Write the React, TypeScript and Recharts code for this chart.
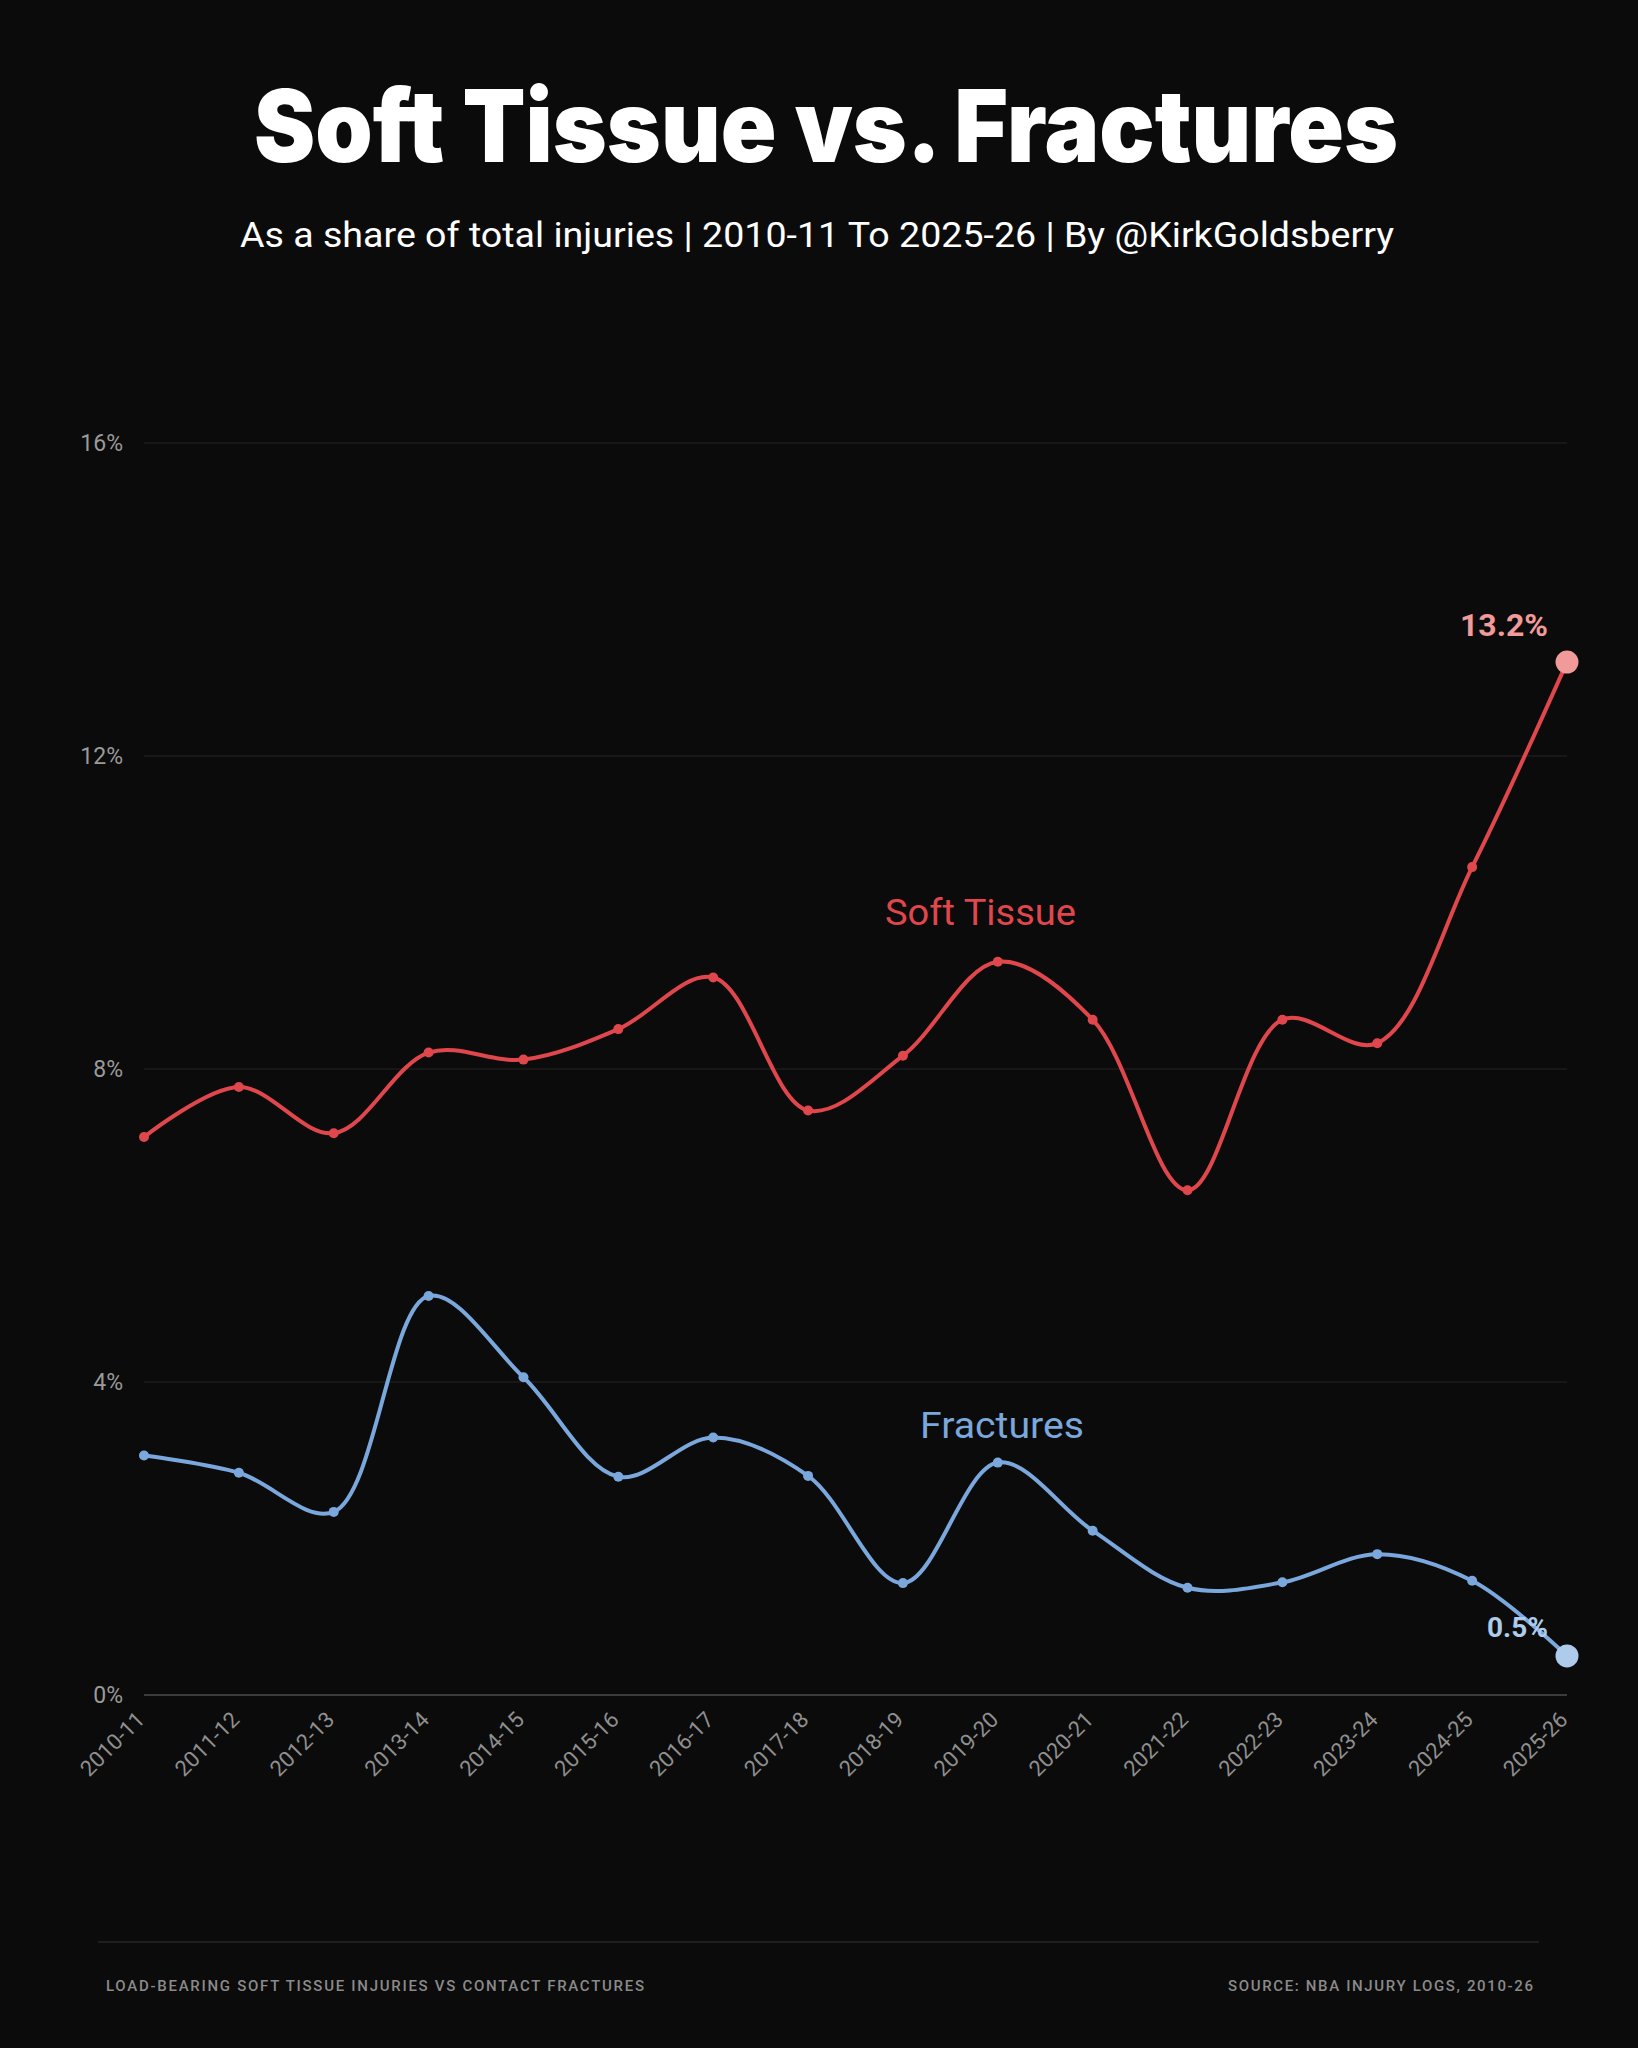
import React from 'react';
import { LineChart, Line, XAxis, YAxis, CartesianGrid } from 'recharts';

const seasons = [
  '2010-11', '2011-12', '2012-13', '2013-14', '2014-15', '2015-16', '2016-17', '2017-18',
  '2018-19', '2019-20', '2020-21', '2021-22', '2022-23', '2023-24', '2024-25', '2025-26',
];
const softTissue = [7.13, 7.77, 7.18, 8.21, 8.12, 8.51, 9.17, 7.47, 8.17, 9.37, 8.63, 6.45, 8.63, 8.33, 10.58, 13.2];
const fractures = [3.06, 2.84, 2.34, 5.1, 4.06, 2.79, 3.29, 2.8, 1.43, 2.97, 2.1, 1.37, 1.44, 1.8, 1.46, 0.5];
const yTicks = [0, 4, 8, 12, 16];

const data = seasons.map((s, i) => ({ season: s, soft: softTissue[i], frac: fractures[i] }));

const BG = '#0b0b0b';
const RED = '#e0474c';
const RED_LIGHT = '#f09a9a';
const BLUE = '#7aa7dc';
const BLUE_LIGHT = '#aecbeb';
const FONT = 'Roboto, "Noto Sans", sans-serif';

// Catmull-Rom (centripetal, alpha 0.5) curve factory
function catmullRom(context: any) {
  const alpha = 0.5;
  let x0 = NaN, y0 = NaN, x1 = NaN, y1 = NaN, x2 = NaN, y2 = NaN;
  let l01a = 0, l12a = 0, l23a = 0, l01_2a = 0, l12_2a = 0, l23_2a = 0;
  let pt = 0;
  let line: number = NaN;
  const bez = (x: number, y: number) => {
    let cx1 = x1, cy1 = y1, cx2 = x2, cy2 = y2;
    if (l01a > 1e-12) {
      const a = 2 * l01_2a + 3 * l01a * l12a + l12_2a;
      const n = 3 * l01a * (l01a + l12a);
      cx1 = (x1 * a - x0 * l12_2a + x2 * l01_2a) / n;
      cy1 = (y1 * a - y0 * l12_2a + y2 * l01_2a) / n;
    }
    if (l23a > 1e-12) {
      const b = 2 * l23_2a + 3 * l23a * l12a + l12_2a;
      const m = 3 * l23a * (l23a + l12a);
      cx2 = (x2 * b + x1 * l23_2a - x * l12_2a) / m;
      cy2 = (y2 * b + y1 * l23_2a - y * l12_2a) / m;
    }
    context.bezierCurveTo(cx1, cy1, cx2, cy2, x2, y2);
  };
  const self: any = {
    areaStart() { line = 0; },
    areaEnd() { line = NaN; },
    lineStart() {
      x0 = x1 = x2 = y0 = y1 = y2 = NaN;
      l01a = l12a = l23a = l01_2a = l12_2a = l23_2a = 0;
      pt = 0;
    },
    lineEnd() {
      if (pt === 2) context.lineTo(x2, y2);
      else if (pt === 3) self.point(x2, y2);
      if (line || (line !== 0 && pt === 1)) context.closePath();
      line = 1 - line;
    },
    point(xIn: number, yIn: number) {
      const x = +xIn, y = +yIn;
      if (pt) {
        const dx = x2 - x, dy = y2 - y;
        l23_2a = Math.pow(dx * dx + dy * dy, alpha);
        l23a = Math.sqrt(l23_2a);
      }
      switch (pt) {
        case 0: pt = 1; if (line) context.lineTo(x, y); else context.moveTo(x, y); break;
        case 1: pt = 2; break;
        case 2: pt = 3; bez(x, y); break;
        default: bez(x, y); break;
      }
      l01a = l12a; l12a = l23a; l01_2a = l12_2a; l12_2a = l23_2a;
      x0 = x1; x1 = x2; x2 = x; y0 = y1; y1 = y2; y2 = y;
    },
  };
  return self;
}

const makeDot = (color: string, bigColor: string, labelSize: number, labelDy: number) => (props: any) => {
  const { cx, cy, index, value } = props;
  if (cx == null || cy == null) return <g key={`e${index}`} />;
  if (index === seasons.length - 1) {
    return (
      <g key={`d${index}`}>
        <circle cx={cx} cy={cy} r={11.5} fill={bigColor} />
        <text
          x={cx - 19}
          y={cy + labelDy}
          textAnchor="end"
          fill={bigColor}
          fontSize={labelSize}
          fontWeight={700}
          fontFamily={FONT}
        >
          {`${value}%`}
        </text>
      </g>
    );
  }
  return <circle key={`d${index}`} cx={cx} cy={cy} r={5} fill={color} />;
};

const XTick = (props: any) => {
  const { x, y, payload } = props;
  return (
    <g transform={`translate(${x + 2},${y + 26})`}>
      <text
        x={0}
        y={0}
        textAnchor="end"
        transform="rotate(-45)"
        fill="#8f8f8f"
        fontSize={22}
        fontFamily={FONT}
      >
        {payload.value}
      </text>
    </g>
  );
};

export default function App() {
  return (
    <div style={{ position: 'relative', width: 1638, height: 2048, background: BG, overflow: 'hidden' }}>
      <style>{`html,body{margin:0;padding:0;background:${BG};}`}</style>
      <div style={{ position: 'absolute', left: 0, top: 0 }}>
        <LineChart
          width={1638}
          height={2048}
          data={data}
          margin={{ top: 443, right: 71, bottom: 293, left: 0 }}
        >
          <CartesianGrid horizontal vertical={false} stroke="#1d1d1d" strokeWidth={1.5} />
          <XAxis
            dataKey="season"
            height={60}
            interval={0}
            tickLine={false}
            tickSize={0}
            tickMargin={0}
            axisLine={{ stroke: '#3c3c3c', strokeWidth: 2 }}
            tick={<XTick />}
          />
          <YAxis
            width={144}
            domain={[0, 16]}
            ticks={yTicks}
            interval={0}
            tickLine={false}
            tickSize={0}
            tickMargin={21}
            axisLine={false}
            tickFormatter={(v: number) => `${v}%`}
            tick={{ fill: '#9a9a9a', fontSize: 23, fontFamily: FONT }}
          />
          <Line
            dataKey="soft"
            type={catmullRom as any}
            stroke={RED}
            strokeWidth={4}
            dot={makeDot(RED, RED_LIGHT, 32, -26)}
            activeDot={false}
            isAnimationActive={false}
          />
          <Line
            dataKey="frac"
            type={catmullRom as any}
            stroke={BLUE}
            strokeWidth={4}
            dot={makeDot(BLUE, BLUE_LIGHT, 28, -19)}
            activeDot={false}
            isAnimationActive={false}
          />
        </LineChart>
      </div>
      <svg
        width={1638}
        height={2048}
        style={{ position: 'absolute', left: 0, top: 0, pointerEvents: 'none' }}
      >
        <text
          x={254}
          y={162}
          fill="#ffffff"
          fontSize={100}
          fontWeight={900}
          fontFamily='Inter, Roboto, sans-serif'
          textLength={1144}
          lengthAdjust="spacingAndGlyphs"
        >
          Soft Tissue vs. Fractures
        </text>
        <text
          x={240}
          y={247}
          fill="#ffffff"
          fontSize={35}
          fontFamily={FONT}
          textLength={1154}
          lengthAdjust="spacingAndGlyphs"
        >
          As a share of total injuries | 2010-11 To 2025-26 | By @KirkGoldsberry
        </text>
        <text
          x={885}
          y={925}
          fill={RED}
          fontSize={37}
          fontFamily={FONT}
          textLength={191}
          lengthAdjust="spacingAndGlyphs"
        >
          Soft Tissue
        </text>
        <text
          x={920}
          y={1438}
          fill={BLUE}
          fontSize={37}
          fontFamily={FONT}
          textLength={164}
          lengthAdjust="spacingAndGlyphs"
        >
          Fractures
        </text>
        <line x1={98} x2={1539} y1={1942} y2={1942} stroke="#1f1f1f" strokeWidth={2} />
        <text
          x={106}
          y={1991}
          fill="#8a8a8a"
          fontSize={15}
          fontWeight={500}
          fontFamily={FONT}
          textLength={538}
          lengthAdjust="spacing"
        >
          LOAD-BEARING SOFT TISSUE INJURIES VS CONTACT FRACTURES
        </text>
        <text
          x={1533}
          y={1991}
          textAnchor="end"
          fill="#8a8a8a"
          fontSize={15}
          fontWeight={500}
          fontFamily={FONT}
          textLength={305}
          lengthAdjust="spacing"
        >
          SOURCE: NBA INJURY LOGS, 2010-26
        </text>
      </svg>
    </div>
  );
}
